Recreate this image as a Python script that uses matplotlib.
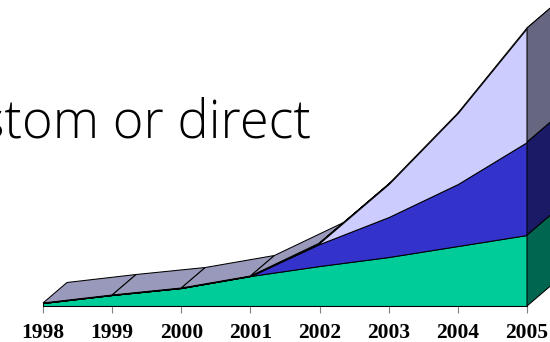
import numpy as np
import matplotlib
matplotlib.use('Agg')
import matplotlib.pyplot as plt

years = [1998, 1999, 2000, 2001, 2002, 2003, 2004, 2005]

# Alturas acumuladas de cada capa
verde = [3, 11, 18, 30, 40, 49, 60, 71]
azul = [3, 11, 18, 30, 62, 89, 122, 164]
lila = [3, 11, 18, 30, 63, 122, 193, 278]

color_verde = '#00CC99'
color_azul = '#3333CC'
color_lila = '#CCCCFF'
color_techo = '#9999BB'
lado_verde = '#006650'
lado_azul = '#1A1A66'
lado_lila = '#666680'

# Desplazamiento de la profundidad 3D
prof_x = 0.347
prof_y = 20.5


def main():
    fig = plt.figure(figsize=(5.5, 3.42), dpi=100)
    ax = fig.add_axes([0, 36 / 342, 1, 306 / 342])

    paso = 484 / 7
    ax.set_xlim(1998 - 43 / paso, 1998 - 43 / paso + 550 / paso)
    ax.set_ylim(0, 306)

    x = np.array(years, dtype=float)
    v = np.array(verde, dtype=float)
    a = np.array(azul, dtype=float)
    l = np.array(lila, dtype=float)

    # Techo de la capa superior, tramo por tramo
    for i in range(len(x) - 1):
        ax.fill([x[i], x[i + 1], x[i + 1] + prof_x, x[i] + prof_x],
                [l[i], l[i + 1], l[i + 1] + prof_y, l[i] + prof_y],
                facecolor=color_techo, edgecolor='black', lw=0.75, zorder=1)

    # Caras frontales
    cero = np.zeros(len(x))
    capas = [(cero, v, color_verde), (v, a, color_azul), (a, l, color_lila)]
    for abajo, arriba, color in capas:
        ax.fill_between(x, abajo, arriba, facecolor=color, edgecolor='black', lw=0.75, zorder=2)

    # Pared lateral derecha
    x_fin = x[-1]
    lados = [(0, v[-1], lado_verde), (v[-1], a[-1], lado_azul), (a[-1], l[-1], lado_lila)]
    for y0, y1, color in lados:
        ax.fill([x_fin, x_fin + prof_x, x_fin + prof_x, x_fin],
                [y0, y0 + prof_y, y1 + prof_y, y1],
                facecolor=color, edgecolor='black', lw=0.75, zorder=3)

    ax.set_xticks(years)
    ax.set_xticklabels([str(y) for y in years], fontfamily='Liberation Serif',
                       fontweight='bold', fontsize=15.5)
    ax.tick_params(axis='x', length=5, width=0.8, color='#808080', pad=7)
    ax.set_yticks([])
    for s in ['top', 'left', 'right']:
        ax.spines[s].set_visible(False)
    ax.spines['bottom'].set_bounds(1998, 2005)
    ax.spines['bottom'].set_zorder(4)
    ax.spines['bottom'].set_linewidth(0.75)

    fig.text(311 / 550, 1 - 138 / 342, 'stom or direct', ha='right', va='baseline',
             fontfamily='Open Sans', fontweight='light', fontsize=37.8, color='black')

    fig.savefig('out.png', dpi=100)


if __name__ == '__main__':
    main()
